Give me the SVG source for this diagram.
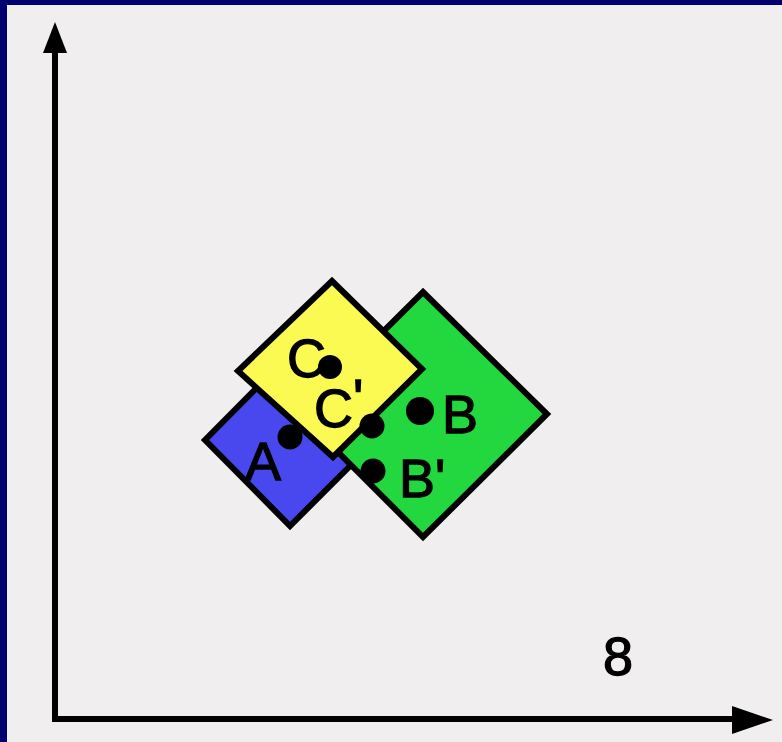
<svg xmlns="http://www.w3.org/2000/svg" width="782" height="742" viewBox="0 0 782 742">
<style>
.sq{stroke:#000;stroke-width:6;stroke-linejoin:miter}
.dot{fill:#000}
.lbl{font-family:"Liberation Sans",Arial,sans-serif;font-size:54px;fill:#000;stroke:#000;stroke-width:1.3}
.axis{stroke:#000;stroke-width:6;fill:none}
</style>
<rect x="0" y="0" width="782" height="742" fill="#f0eeee"/>
<rect x="0" y="0" width="782" height="5" fill="#000070"/>
<rect x="0" y="0" width="7" height="742" fill="#000070"/>
<g id="axes">
<line class="axis" x1="55" y1="719" x2="55" y2="50"/>
<path d="M55,22 L67,53 L43,53 z" fill="#000"/>
<line class="axis" x1="52" y1="719" x2="735" y2="719"/>
<path d="M773,720 L732,706 L732,734 z" fill="#000"/>
</g>
<g id="blue"><polygon class="sq" fill="#4848ee" points="290,354 376,440 290,526 205,440"/></g>
<g id="green"><polygon class="sq" fill="#22d83e" points="423,292 547,414 423,537 300,414"/></g>
<g id="yellow"><polygon class="sq" fill="#fafa52" points="332,281 422,369 333,457 238,371"/></g>
<g id="dots">
<circle class="dot" cx="330" cy="367" r="12"/>
<circle class="dot" cx="372" cy="426" r="12.5"/>
<circle class="dot" cx="420" cy="411" r="14"/>
<circle class="dot" cx="290" cy="437" r="12.5"/>
<circle class="dot" cx="373" cy="471" r="12.5"/>
</g>
<g id="labels">
<text class="lbl" x="287" y="377">C</text>
<text class="lbl" x="314" y="427">C<tspan dy="-10">'</tspan></text>
<text class="lbl" x="442" y="433">B</text>
<text class="lbl" x="399" y="497">B'</text>
<text class="lbl" x="245" y="480">A</text>
<text class="lbl" x="603" y="675" style="font-size:54px">8</text>
</g>
</svg>
